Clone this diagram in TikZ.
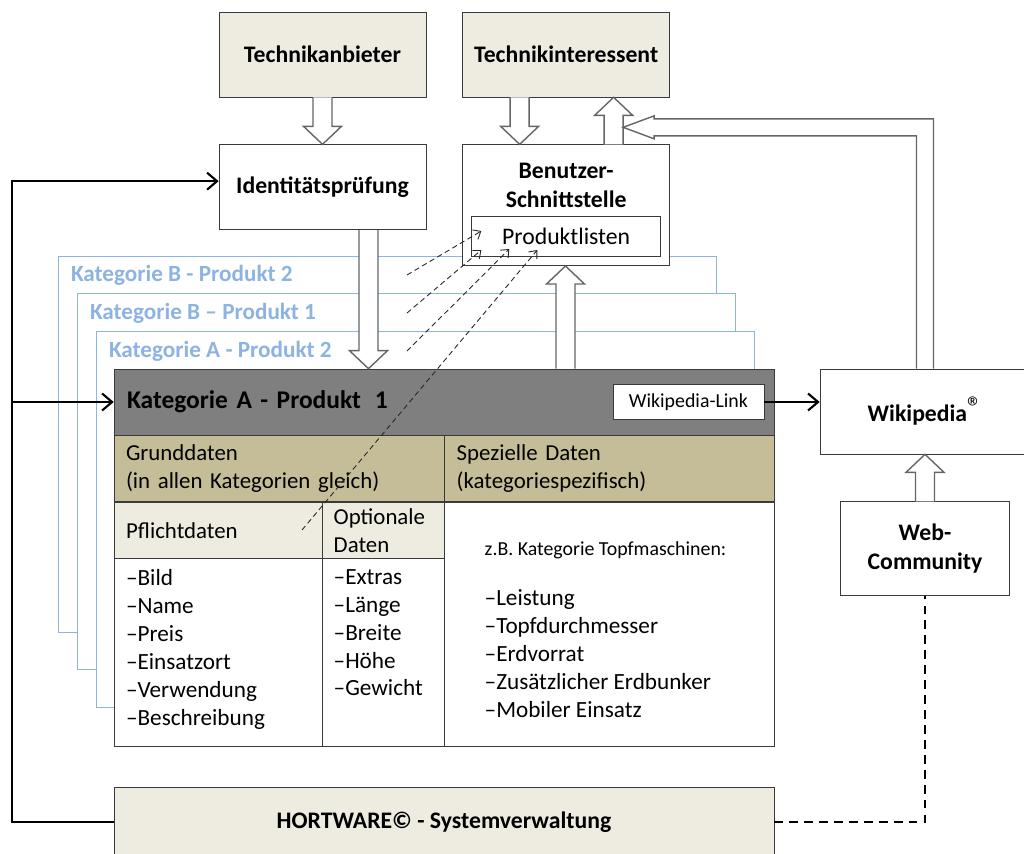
\documentclass[tikz,border=0pt]{standalone}
\usepackage{fontspec}
\setmainfont{Carlito}
\usetikzlibrary{positioning}
\usetikzlibrary{calc}
\usetikzlibrary{arrows.meta}
\definecolor{paper}{HTML}{EEECE1}
\definecolor{tan}{HTML}{C4BD97}
\definecolor{headgray}{HTML}{7F7F7F}
\definecolor{catblue}{HTML}{8DB3E2}
\definecolor{edge}{HTML}{3A3A3A}
\tikzstyle{actor}=[rectangle, draw=edge, fill=paper, minimum width=4.14cm, minimum height=1.7cm, align=center, font=\fontsize{13.5}{16.5}\selectfont\bfseries]
\tikzstyle{plainbox}=[rectangle, draw=edge, fill=white, minimum width=4.14cm, minimum height=1.7cm, align=center, font=\fontsize{13.5}{16.5}\selectfont\bfseries]
\tikzstyle{prodbox}=[rectangle, draw=edge, fill=white, minimum width=3.78cm, minimum height=0.8cm, font=\fontsize{13.5}{15}\selectfont]
\tikzstyle{catbox}=[rectangle, draw=catblue, fill=white, minimum width=13.16cm, minimum height=7.52cm]
\tikzstyle{catlabel}=[anchor=west, inner sep=0pt, text=catblue, xshift=0.26cm, yshift=-0.4cm, font=\fontsize{13.2}{15}\selectfont\bfseries]
\tikzstyle{head}=[rectangle, draw=edge, fill=headgray, minimum width=13.2cm, minimum height=1.32cm, inner xsep=0.26cm, text width=12.68cm, align=left, font=\fontsize{14.5}{18}\selectfont\bfseries]
\tikzstyle{cell}=[rectangle, draw=edge, inner xsep=0.24cm, inner ysep=1pt, align=left, font=\fontsize{13}{15.9}\selectfont]
\tikzstyle{listtxt}=[inner sep=0pt, align=left, font=\fontsize{13.2}{15.9}\selectfont]
\tikzstyle{linkbox}=[rectangle, draw=edge, fill=white, minimum width=3.02cm, minimum height=0.7cm, font=\fontsize{11.3}{13}\selectfont]
\tikzstyle{blk}=[draw=black!60, fill=white, line width=0.8pt, line join=miter]
\tikzstyle{conn}=[draw=black, line width=1.2pt]
\tikzstyle{feed}=[draw=black!85, line width=0.5pt, densely dashed, -{Straight Barb[length=1.3mm,width=2.2mm]}]

% hollow block arrows, #3 = x offset in cm
\newcommand{\blockdown}[3]{%
  \draw[blk] ($(#1)+(#3cm-0.19cm,0)$) -- ($(#1 |- #2)+(#3cm-0.19cm,0.36cm)$)
    -- ($(#1 |- #2)+(#3cm-0.38cm,0.36cm)$) -- ($(#1 |- #2)+(#3cm,0)$)
    -- ($(#1 |- #2)+(#3cm+0.38cm,0.36cm)$) -- ($(#1 |- #2)+(#3cm+0.19cm,0.36cm)$)
    -- ($(#1)+(#3cm+0.19cm,0)$);}
\newcommand{\blockup}[3]{%
  \draw[blk] ($(#1)+(#3cm-0.19cm,0)$) -- ($(#1 |- #2)+(#3cm-0.19cm,-0.36cm)$)
    -- ($(#1 |- #2)+(#3cm-0.38cm,-0.36cm)$) -- ($(#1 |- #2)+(#3cm,0)$)
    -- ($(#1 |- #2)+(#3cm+0.38cm,-0.36cm)$) -- ($(#1 |- #2)+(#3cm+0.19cm,-0.36cm)$)
    -- ($(#1)+(#3cm+0.19cm,0)$);}

\begin{document}
\begin{tikzpicture}[x=0.02cm, y=-0.02cm, >={Straight Barb[length=2mm,width=3.4mm]}]
    \useasboundingbox (0,0) rectangle (1024,854);

    % stacked product cards
    \foreach \n/\cx/\cy/\txt in {b2/387/444/Kategorie B - Produkt 2, b1/406/481.5/Kategorie B – Produkt 1, a2/425/519.5/Kategorie A - Produkt 2}
        \node[catbox, label={[catlabel]north west:\txt}] (\n) at (\cx,\cy) {};

    % roles and interfaces
    \node[actor] (anb) at (322.5,54.5) {Technikanbieter};
    \node[actor, right=0.72cm of anb] (inter) {Technikinteressent};
    \node[plainbox, below=0.94cm of anb] (ident) {Identitätsprüfung};
    \node[plainbox, minimum height=2.42cm, below=0.94cm of inter,
        label={[anchor=north, align=center, inner sep=0pt, yshift=-0.36cm, font=\fontsize{13.5}{16.5}\selectfont\bfseries]north:Benutzer-\\Schnittstelle}] (ui) {};
    \node[prodbox, above=0.18cm of ui.south] (prod) {Produktlisten};

    % main product card
    \node[head] (kat1) at (444,402) {Kategorie A - Produkt\hspace{3pt} 1};
    \node[linkbox, left=0.2cm of kat1.east] (wlink) {Wikipedia-Link};
    \node[cell, fill=tan, minimum width=6.6cm, minimum height=1.32cm, text width=6.12cm, below right=0pt of kat1.south west] (grund) {Grunddaten\\(in allen Kategorien gleich)};
    \node[cell, fill=tan, minimum width=6.6cm, minimum height=1.32cm, text width=6.12cm, right=0pt of grund] (spez) {Spezielle Daten\\(kategoriespezifisch)};
    \node[cell, fill=white, minimum width=6.6cm, minimum height=4.88cm, below right=0pt of spez.south west] (spezbody) {};
    \node[cell, fill=white, minimum width=4.16cm, minimum height=3.76cm, anchor=south west] (pflist) at (kat1.west |- spezbody.south) {};
    \node[cell, fill=white, minimum width=2.44cm, minimum height=3.76cm, right=0pt of pflist] (optlist) {};
    \node[cell, fill=paper, minimum width=4.16cm, minimum height=1.12cm, text width=3.68cm, below right=0pt of grund.south west] (pflicht) {Pflichtdaten};
    \node[cell, fill=paper, minimum width=2.44cm, minimum height=1.12cm, inner xsep=0.22cm, text width=2.0cm, right=0pt of pflicht] (opt) {Optionale\\Daten};

    \node[listtxt, below right=0.22cm and 0.24cm of pflist.north west] (pfltxt) {–Bild\\–Name\\–Preis\\–Einsatzort\\–Verwendung\\–Beschreibung};
    \node[listtxt, below right=0.22cm and 0.22cm of optlist.north west] (opttxt) {–Extras\\–Länge\\–Breite\\–Höhe\\–Gewicht};
    \node[listtxt, font=\fontsize{11.3}{13}\selectfont, below right=0.78cm and 0.8cm of spezbody.north west] (zb) {z.B. Kategorie Topfmaschinen:};
    \node[listtxt, below right=1.74cm and 0.8cm of spezbody.north west] (speztxt) {–Leistung\\–Topfdurchmesser\\–Erdvorrat\\–Zusätzlicher Erdbunker\\–Mobiler Einsatz};

    % outside
    \node[plainbox, minimum width=4.2cm] (wiki) at (925,411.5) {Wikipedia\raisebox{0.35ex}{\fontsize{17}{17}\selectfont\mdseries ®}};
    \node[plainbox, minimum width=3.38cm, minimum height=1.88cm, below=0.94cm of wiki] (web) {Web-\\Community};
    \node[actor, minimum width=13.2cm, minimum height=1.4cm] (hort) at (444,822) {HORTWARE© - Systemverwaltung};

    % block arrows
    \blockdown{anb.south}{ident.north}{0}
    \blockdown{inter.south}{ui.north}{-0.93}
    \blockup{ui.north}{inter.south}{0.95}
    \blockdown{ident.south}{kat1.north}{0.92}
    \blockup{kat1.north}{ui.south}{2.43}
    \blockup{web.north}{wiki.south}{0}
    \coordinate (wtip) at ($(inter.south)+(1.14cm,-0.6cm)$);
    \draw[blk] ($(wiki.north)+(-0.17cm,0)$) |- ($(wtip)+(0.62cm,-0.17cm)$) -- ($(wtip)+(0.62cm,-0.23cm)$)
        -- (wtip) -- ($(wtip)+(0.62cm,0.23cm)$) -- ($(wtip)+(0.62cm,0.17cm)$) -| ($(wiki.north)+(0.17cm,0)$);

    % connectors
    \coordinate (rail) at (12,822);
    \draw[conn, ->] (hort.west) -- (rail) |- ($(ident.west)+(0,0.12cm)$);
    \draw[conn, ->] (rail |- kat1.west) -- (kat1.west);
    \draw[conn, ->] (wlink.east) -- (wlink.east -| wiki.west);
    \draw[conn, dash pattern=on 5pt off 3.5pt] (hort.east) -| (web.south);

    % product lists feed
    \coordinate (s1) at (407,275);
    \coordinate (s2) at (407,313);
    \coordinate (s3) at (407,351);
    \coordinate (s4) at (302,530);
    \foreach \s/\dx/\dy in {s1/0.2/0.52, s2/0.2/0.14, s3/0.76/0.16, s4/1.32/0.14}
        \draw[feed] (\s) -- ($(prod.south west)+(\dx cm,\dy cm)$);
\end{tikzpicture}
\end{document}
